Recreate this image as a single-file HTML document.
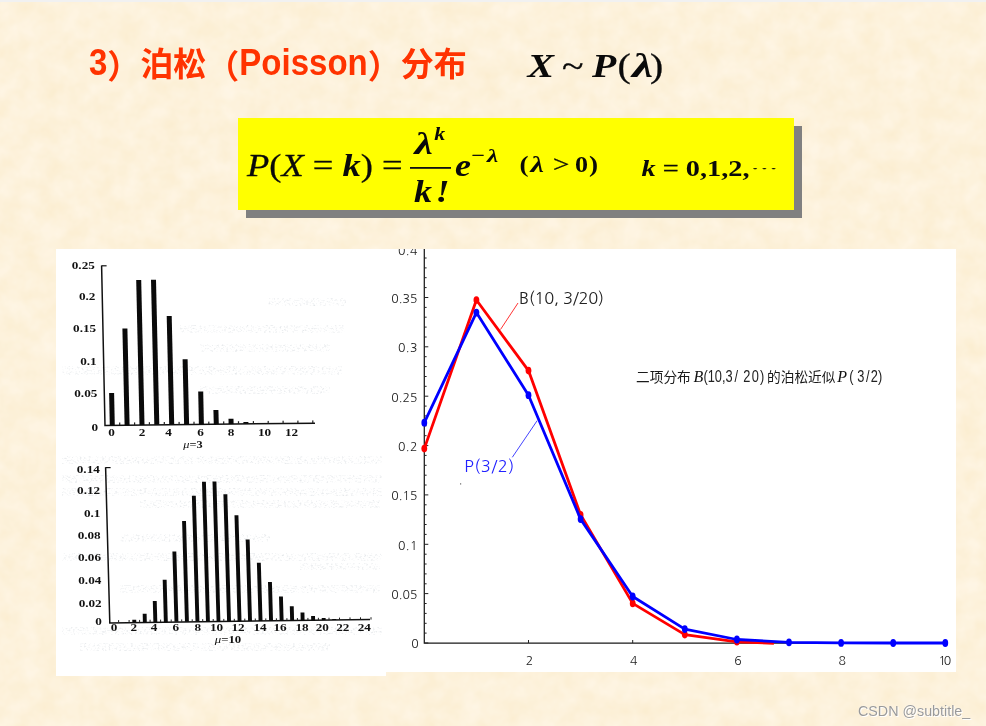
<!DOCTYPE html>
<html lang="zh"><head><meta charset="utf-8"><title>泊松（Poisson）分布</title>
<style>
html,body{margin:0;padding:0}
body{width:986px;height:726px;overflow:hidden;position:relative;background:#fdf1db;font-family:"Liberation Sans","Noto Sans CJK SC",sans-serif}
#tex{position:absolute;left:0;top:0;width:986px;height:726px}
#topbar{position:absolute;left:0;top:0;width:986px;height:2px;background:#f1f1f1}
#title{position:absolute;left:89px;top:43px;font-size:33px;font-weight:bold;color:#ff3300;white-space:nowrap;line-height:44px;letter-spacing:0}
.lt{display:inline-block;transform:scaleY(1.1);transform-origin:0 76%;position:relative;top:-1px}
.pr{position:relative;top:2px}
.m{font-family:"Liberation Serif","DejaVu Serif",serif;font-style:italic;font-weight:bold;fill:#0a0a0a;white-space:pre}
.m .r{font-style:normal}
#ybox{position:absolute;left:238px;top:118px;width:556px;height:91.5px;background:#ffff00;box-shadow:8px 8px 0 #808080}
#panelL{position:absolute;left:56px;top:249px;width:330px;height:427px;background:#fff}
#panelR{position:absolute;left:385px;top:249px;width:571px;height:423px;background:#fff}
#charts{position:absolute;left:0;top:0;width:986px;height:726px}
.sl{font-family:"Liberation Serif","DejaVu Serif",serif;font-weight:bold;font-size:10px;fill:#111}
.tk{font-family:"NanumGothic","Liberation Sans",sans-serif;font-size:12.3px;fill:#222}
.lb{font-family:"NanumGothic","Liberation Sans",sans-serif;font-size:16.5px}
.cap{font-family:"Noto Sans CJK SC","WenQuanYi Zen Hei",sans-serif;font-weight:400;font-size:13.7px;fill:#1a1a1a}
.it{font-family:"Liberation Serif","DejaVu Serif",serif;font-style:italic;font-size:16px;fill:#111}
.nr{font-family:"Liberation Sans","DejaVu Sans",sans-serif;font-size:16px;fill:#222}
#wm{position:absolute;left:858px;top:701.5px;font-size:14.3px;line-height:18px;color:#9a9a9a;text-shadow:0 0 1px #fff,1px 1px 0 #fff;white-space:nowrap}
</style></head><body>
<svg id="tex" width="986" height="726">
<defs>
<filter id="paper" x="0" y="0" width="100%" height="100%" color-interpolation-filters="sRGB">
<feTurbulence type="fractalNoise" baseFrequency="0.05" numOctaves="3" seed="11" result="n"/>
<feColorMatrix type="matrix" values="0.0157 0 0 0 0.9835  0.0392 0 0 0 0.9275  0.0980 0 0 0 0.8098  0 0 0 0 1"/>
</filter>
</defs>
<rect width="986" height="726" fill="#fdf1db"/>
<rect width="986" height="726" filter="url(#paper)"/>
</svg>
<div id="topbar"></div>
<div id="title"><span class="lt">3</span><span class="pr">）</span>泊松<span class="pr">（</span><span class="lt">Poisson</span><span class="pr">）</span>分布</div>
<div id="ybox"></div>
<div id="panelL"></div>
<div id="panelR"></div>
<svg id="charts" width="986" height="726" viewBox="0 0 986 726">
<defs><clipPath id="cr"><rect x="385" y="249" width="571" height="423"/></clipPath>
<filter id="ghost" x="0" y="0" width="100%" height="100%" color-interpolation-filters="sRGB">
<feTurbulence type="fractalNoise" baseFrequency="0.45 0.6" numOctaves="2" seed="3"/>
<feColorMatrix type="matrix" values="0 0 0 0 0.55  0 0 0 0 0.6  0 0 0 0 0.65  2.2 0 0 0 -1.12" result="n"/>
<feComposite in="n" in2="SourceGraphic" operator="in"/>
</filter></defs>
<g id="gh" filter="url(#ghost)" opacity="0.28">
<rect x="268" y="298" width="78" height="8" fill="#fff"/>
<rect x="180" y="325" width="165" height="8" fill="#fff"/>
<rect x="200" y="344" width="130" height="8" fill="#fff"/>
<rect x="62" y="366" width="280" height="9" fill="#fff"/>
<rect x="200" y="386" width="130" height="8" fill="#fff"/>
<rect x="62" y="456" width="320" height="8" fill="#fff"/>
<rect x="62" y="475" width="320" height="8" fill="#fff"/>
<rect x="62" y="488" width="320" height="8" fill="#fff"/>
<rect x="140" y="500" width="240" height="8" fill="#fff"/>
<rect x="120" y="534" width="150" height="8" fill="#fff"/>
<rect x="62" y="553" width="320" height="8" fill="#fff"/>
<rect x="300" y="563" width="80" height="7" fill="#fff"/>
<rect x="120" y="585" width="260" height="8" fill="#fff"/>
<rect x="62" y="627" width="320" height="8" fill="#fff"/>
<rect x="80" y="643" width="250" height="8" fill="#fff"/>
</g>
<g id="mth">
<text transform="translate(527.5,77) scale(1.17,1)" font-size="34" class="m" >X</text>
<text transform="translate(562,77) scale(1.17,1)" font-size="34" class="m" ><tspan class="r" font-weight="normal" stroke="#0a0a0a" stroke-width="0.3">~</tspan></text>
<text transform="translate(592,77) scale(1.17,1)" font-size="34" class="m" >P</text>
<text transform="translate(617.5,77) scale(1.17,1)" font-size="34" class="m" ><tspan class="r" font-weight="normal" stroke="#0a0a0a" stroke-width="0.3">(</tspan></text>
<text transform="translate(632,77) scale(1.4,1)" font-size="34" class="m" >λ</text>
<text transform="translate(650,77) scale(1.17,1)" font-size="34" class="m" ><tspan class="r" font-weight="normal" stroke="#0a0a0a" stroke-width="0.3">)</tspan></text>
<text transform="translate(247,175.6) scale(1.177,1)" font-size="31" class="m" ><tspan font-weight="normal" stroke="#0a0a0a" stroke-width="0.3">P<tspan class="r" >(</tspan>X <tspan class="r" >=</tspan></tspan> k<tspan class="r" font-weight="normal" stroke="#0a0a0a" stroke-width="0.3">)</tspan> <tspan class="r" font-weight="normal" stroke="#0a0a0a" stroke-width="0.3">=</tspan></text>
<text transform="translate(414.5,153.5) scale(1.33,1)" font-size="31" class="m" >λ</text>
<text transform="translate(434.3,140) scale(1.16,1)" font-size="19" class="m" >k</text>
<rect x="410" y="167" width="41" height="1.8" fill="#111"/>
<text transform="translate(414,201.8) scale(1.16,1)" font-size="31" class="m" >k</text>
<text transform="translate(435.5,201.8) scale(1.16,1)" font-size="31" class="m" >!</text>
<text transform="translate(455,175.7) scale(1.16,1)" font-size="31" class="m" >e</text>
<text transform="translate(471.5,162) scale(1.16,1)" font-size="20" class="m" ><tspan class="r" font-weight="normal" stroke="#0a0a0a" stroke-width="0.3">−</tspan></text>
<text transform="translate(487,161.6) scale(1.3,1)" font-size="19.5" class="m" >λ</text>
<text transform="translate(519.5,171.5) scale(1.16,1)" font-size="23.5" class="m" ><tspan class="r" >(</tspan></text>
<text transform="translate(530.5,171.5) scale(1.35,1)" font-size="22.5" class="m" >λ</text>
<text transform="translate(553,171.5) scale(1.3,1)" font-size="22.5" class="m" ><tspan class="r" font-weight="normal" stroke="#0a0a0a" stroke-width="0.3">&gt;</tspan></text>
<text transform="translate(575,171.5) scale(1.16,1)" font-size="22.5" class="m" ><tspan class="r" >0</tspan></text>
<text transform="translate(589,171.5) scale(1.16,1)" font-size="23.5" class="m" ><tspan class="r" >)</tspan></text>
<text transform="translate(641.5,175.8) scale(1.18,1)" font-size="24" class="m" >k <tspan class="r" font-weight="normal" stroke="#0a0a0a" stroke-width="0.3">=</tspan> <tspan class="r" >0,1,2,</tspan></text>
<text transform="translate(749.2,172.3) scale(3.2,1)" font-size="11" class="m" ><tspan class="r" font-weight="normal" letter-spacing="-0.77">···</tspan></text>
</g>
<g id="c1">
<path d="M101.6 265.5 L105 425.5 L315 423.2" fill="none" stroke="#111" stroke-width="1.5"/>
<path d="M101.6 265.8 h5" stroke="#111" stroke-width="1.2"/>
<polygon points="109.8,425.2 114.8,425.2 114.1,393.0 109.1,393.0" fill="#0a0a0a"/>
<polygon points="124.6,425.1 129.6,425.1 127.4,328.4 122.4,328.4" fill="#0a0a0a"/>
<polygon points="139.5,424.9 144.5,424.9 141.2,280.0 136.2,280.0" fill="#0a0a0a"/>
<polygon points="154.3,424.7 159.3,424.7 156.0,279.8 151.0,279.8" fill="#0a0a0a"/>
<polygon points="169.2,424.6 174.2,424.6 171.7,315.9 166.7,315.9" fill="#0a0a0a"/>
<polygon points="184.1,424.4 189.1,424.4 187.6,359.2 182.6,359.2" fill="#0a0a0a"/>
<polygon points="198.9,424.2 203.9,424.2 203.2,391.6 198.2,391.6" fill="#0a0a0a"/>
<polygon points="213.8,424.1 218.8,424.1 218.4,410.1 213.4,410.1" fill="#0a0a0a"/>
<polygon points="228.6,423.9 233.6,423.9 233.5,418.7 228.5,418.7" fill="#0a0a0a"/>
<polygon points="243.4,423.7 248.4,423.7 248.4,422.0 243.4,422.0" fill="#0a0a0a"/>
<rect x="119.1" y="422.5" width="1.2" height="2.6" fill="#222"/>
<rect x="134.0" y="422.4" width="1.2" height="2.6" fill="#222"/>
<rect x="148.8" y="422.2" width="1.2" height="2.6" fill="#222"/>
<rect x="163.7" y="422.0" width="1.2" height="2.6" fill="#222"/>
<rect x="178.5" y="421.9" width="1.2" height="2.6" fill="#222"/>
<rect x="193.4" y="421.7" width="1.2" height="2.6" fill="#222"/>
<rect x="208.2" y="421.6" width="1.2" height="2.6" fill="#222"/>
<rect x="223.1" y="421.4" width="1.2" height="2.6" fill="#222"/>
<rect x="237.9" y="421.2" width="1.2" height="2.6" fill="#222"/>
<rect x="252.8" y="421.1" width="1.2" height="2.6" fill="#222"/>
<rect x="267.6" y="420.9" width="1.2" height="2.6" fill="#222"/>
<rect x="282.5" y="420.7" width="1.2" height="2.6" fill="#222"/>
<rect x="297.3" y="420.6" width="1.2" height="2.6" fill="#222"/>
<rect x="312.2" y="420.4" width="1.2" height="2.6" fill="#222"/>
<text transform="translate(94.8,269.4) scale(1.32,1)" text-anchor="end" class="sl">0.25</text>
<text transform="translate(95.4,300.4) scale(1.32,1)" text-anchor="end" class="sl">0.2</text>
<text transform="translate(96.1,332.4) scale(1.32,1)" text-anchor="end" class="sl">0.15</text>
<text transform="translate(96.7,364.9) scale(1.32,1)" text-anchor="end" class="sl">0.1</text>
<text transform="translate(97.3,396.9) scale(1.32,1)" text-anchor="end" class="sl">0.05</text>
<text transform="translate(98.0,431.4) scale(1.32,1)" text-anchor="end" class="sl">0</text>
<text transform="translate(111.5,435.5) scale(1.32,1)" text-anchor="middle" class="sl">0</text>
<text transform="translate(142,435.5) scale(1.32,1)" text-anchor="middle" class="sl">2</text>
<text transform="translate(168.5,435.5) scale(1.32,1)" text-anchor="middle" class="sl">4</text>
<text transform="translate(200.5,435.5) scale(1.32,1)" text-anchor="middle" class="sl">6</text>
<text transform="translate(231,435.5) scale(1.32,1)" text-anchor="middle" class="sl">8</text>
<text transform="translate(264.5,435.5) scale(1.32,1)" text-anchor="middle" class="sl">10</text>
<text transform="translate(291.5,435.5) scale(1.32,1)" text-anchor="middle" class="sl">12</text>
<text transform="translate(193,447.5) scale(1.3,1)" text-anchor="middle" class="sl" style="font-size:9.5px"><tspan font-style="italic" font-weight="normal">μ</tspan>=3</text>
</g>
<g id="c2">
<path d="M105.6 467.3 L109.8 623 L370 619.6" fill="none" stroke="#111" stroke-width="1.5"/>
<path d="M105.6 467.6 h5" stroke="#111" stroke-width="1.2"/>
<polygon points="132.4,622.3 136.3,622.3 136.2,619.8 132.3,619.8" fill="#0a0a0a"/>
<polygon points="142.9,622.2 146.8,622.2 146.6,613.7 142.7,613.7" fill="#0a0a0a"/>
<polygon points="153.4,622.1 157.3,622.1 156.7,601.0 152.8,601.0" fill="#0a0a0a"/>
<polygon points="163.9,622.0 167.8,622.0 166.6,579.7 162.7,579.7" fill="#0a0a0a"/>
<polygon points="174.5,621.8 178.4,621.8 176.3,551.4 172.4,551.4" fill="#0a0a0a"/>
<polygon points="185.0,621.7 188.9,621.7 186.0,521.1 182.1,521.1" fill="#0a0a0a"/>
<polygon points="195.5,621.6 199.4,621.6 195.8,495.8 191.9,495.8" fill="#0a0a0a"/>
<polygon points="206.0,621.5 209.9,621.5 205.9,481.7 202.0,481.7" fill="#0a0a0a"/>
<polygon points="216.6,621.4 220.4,621.4 216.4,481.6 212.5,481.6" fill="#0a0a0a"/>
<polygon points="227.1,621.2 231.0,621.2 227.3,494.2 223.4,494.2" fill="#0a0a0a"/>
<polygon points="237.6,621.1 241.5,621.1 238.4,515.3 234.5,515.3" fill="#0a0a0a"/>
<polygon points="248.1,621.0 252.0,621.0 249.6,539.6 245.7,539.6" fill="#0a0a0a"/>
<polygon points="258.6,620.9 262.5,620.9 260.8,562.7 256.9,562.7" fill="#0a0a0a"/>
<polygon points="269.1,620.7 273.0,620.7 271.9,582.0 268.0,582.0" fill="#0a0a0a"/>
<polygon points="279.7,620.6 283.6,620.6 282.9,596.4 279.0,596.4" fill="#0a0a0a"/>
<polygon points="290.2,620.5 294.1,620.5 293.7,606.2 289.8,606.2" fill="#0a0a0a"/>
<polygon points="300.7,620.4 304.6,620.4 304.4,612.5 300.5,612.5" fill="#0a0a0a"/>
<polygon points="311.2,620.3 315.1,620.3 315.0,616.1 311.1,616.1" fill="#0a0a0a"/>
<polygon points="321.8,620.1 325.6,620.1 325.6,618.1 321.7,618.1" fill="#0a0a0a"/>
<polygon points="332.3,620.0 336.2,620.0 336.1,619.0 332.2,619.0" fill="#0a0a0a"/>
<rect x="118.1" y="620.1" width="1" height="2.4" fill="#222"/>
<rect x="128.6" y="620.0" width="1" height="2.4" fill="#222"/>
<rect x="139.1" y="619.9" width="1" height="2.4" fill="#222"/>
<rect x="149.6" y="619.7" width="1" height="2.4" fill="#222"/>
<rect x="160.1" y="619.6" width="1" height="2.4" fill="#222"/>
<rect x="170.7" y="619.5" width="1" height="2.4" fill="#222"/>
<rect x="181.2" y="619.4" width="1" height="2.4" fill="#222"/>
<rect x="191.7" y="619.3" width="1" height="2.4" fill="#222"/>
<rect x="202.2" y="619.1" width="1" height="2.4" fill="#222"/>
<rect x="212.7" y="619.0" width="1" height="2.4" fill="#222"/>
<rect x="223.3" y="618.9" width="1" height="2.4" fill="#222"/>
<rect x="233.8" y="618.8" width="1" height="2.4" fill="#222"/>
<rect x="244.3" y="618.6" width="1" height="2.4" fill="#222"/>
<rect x="254.8" y="618.5" width="1" height="2.4" fill="#222"/>
<rect x="265.3" y="618.4" width="1" height="2.4" fill="#222"/>
<rect x="275.9" y="618.3" width="1" height="2.4" fill="#222"/>
<rect x="286.4" y="618.2" width="1" height="2.4" fill="#222"/>
<rect x="296.9" y="618.0" width="1" height="2.4" fill="#222"/>
<rect x="307.4" y="617.9" width="1" height="2.4" fill="#222"/>
<rect x="317.9" y="617.8" width="1" height="2.4" fill="#222"/>
<rect x="328.5" y="617.7" width="1" height="2.4" fill="#222"/>
<rect x="339.0" y="617.6" width="1" height="2.4" fill="#222"/>
<rect x="349.5" y="617.4" width="1" height="2.4" fill="#222"/>
<rect x="360.0" y="617.3" width="1" height="2.4" fill="#222"/>
<rect x="370.5" y="617.2" width="1" height="2.4" fill="#222"/>
<text transform="translate(99.8,473.0) scale(1.32,1)" text-anchor="end" class="sl">0.14</text>
<text transform="translate(100.1,493.5) scale(1.32,1)" text-anchor="end" class="sl">0.12</text>
<text transform="translate(100.4,516.5) scale(1.32,1)" text-anchor="end" class="sl">0.1</text>
<text transform="translate(100.7,538.5) scale(1.32,1)" text-anchor="end" class="sl">0.08</text>
<text transform="translate(101.0,561.0) scale(1.32,1)" text-anchor="end" class="sl">0.06</text>
<text transform="translate(101.3,583.5) scale(1.32,1)" text-anchor="end" class="sl">0.04</text>
<text transform="translate(101.7,606.5) scale(1.32,1)" text-anchor="end" class="sl">0.02</text>
<text transform="translate(101.9,624.5) scale(1.32,1)" text-anchor="end" class="sl">0</text>
<text transform="translate(114,631) scale(1.32,1)" text-anchor="middle" class="sl">0</text>
<text transform="translate(133.8,631) scale(1.32,1)" text-anchor="middle" class="sl">2</text>
<text transform="translate(154,631) scale(1.32,1)" text-anchor="middle" class="sl">4</text>
<text transform="translate(175.8,631) scale(1.32,1)" text-anchor="middle" class="sl">6</text>
<text transform="translate(197.7,631) scale(1.32,1)" text-anchor="middle" class="sl">8</text>
<text transform="translate(216.5,631) scale(1.32,1)" text-anchor="middle" class="sl">10</text>
<text transform="translate(238,631) scale(1.32,1)" text-anchor="middle" class="sl">12</text>
<text transform="translate(260,631) scale(1.32,1)" text-anchor="middle" class="sl">14</text>
<text transform="translate(280,631) scale(1.32,1)" text-anchor="middle" class="sl">16</text>
<text transform="translate(302,631) scale(1.32,1)" text-anchor="middle" class="sl">18</text>
<text transform="translate(322.3,631) scale(1.32,1)" text-anchor="middle" class="sl">20</text>
<text transform="translate(342.8,631) scale(1.32,1)" text-anchor="middle" class="sl">22</text>
<text transform="translate(364.3,631) scale(1.32,1)" text-anchor="middle" class="sl">24</text>
<text transform="translate(228,643.3) scale(1.35,1)" text-anchor="middle" class="sl" style="font-size:9.5px"><tspan font-style="italic" font-weight="normal">μ</tspan>=10</text>
</g>
<g id="c3" clip-path="url(#cr)">
<path d="M424.3 249 V643.0 H948" fill="none" stroke="#1a1a1a" stroke-width="1.25"/>
<path d="M424.3 643.0 h4" stroke="#222" stroke-width="1"/>
<path d="M424.3 633.1 h2.3" stroke="#222" stroke-width="1"/>
<path d="M424.3 623.3 h2.3" stroke="#222" stroke-width="1"/>
<path d="M424.3 613.4 h2.3" stroke="#222" stroke-width="1"/>
<path d="M424.3 603.5 h2.3" stroke="#222" stroke-width="1"/>
<path d="M424.3 593.6 h4" stroke="#222" stroke-width="1"/>
<path d="M424.3 583.8 h2.3" stroke="#222" stroke-width="1"/>
<path d="M424.3 573.9 h2.3" stroke="#222" stroke-width="1"/>
<path d="M424.3 564.0 h2.3" stroke="#222" stroke-width="1"/>
<path d="M424.3 554.2 h2.3" stroke="#222" stroke-width="1"/>
<path d="M424.3 544.3 h4" stroke="#222" stroke-width="1"/>
<path d="M424.3 534.4 h2.3" stroke="#222" stroke-width="1"/>
<path d="M424.3 524.5 h2.3" stroke="#222" stroke-width="1"/>
<path d="M424.3 514.7 h2.3" stroke="#222" stroke-width="1"/>
<path d="M424.3 504.8 h2.3" stroke="#222" stroke-width="1"/>
<path d="M424.3 494.9 h4" stroke="#222" stroke-width="1"/>
<path d="M424.3 485.0 h2.3" stroke="#222" stroke-width="1"/>
<path d="M424.3 475.2 h2.3" stroke="#222" stroke-width="1"/>
<path d="M424.3 465.3 h2.3" stroke="#222" stroke-width="1"/>
<path d="M424.3 455.4 h2.3" stroke="#222" stroke-width="1"/>
<path d="M424.3 445.6 h4" stroke="#222" stroke-width="1"/>
<path d="M424.3 435.7 h2.3" stroke="#222" stroke-width="1"/>
<path d="M424.3 425.8 h2.3" stroke="#222" stroke-width="1"/>
<path d="M424.3 415.9 h2.3" stroke="#222" stroke-width="1"/>
<path d="M424.3 406.1 h2.3" stroke="#222" stroke-width="1"/>
<path d="M424.3 396.2 h4" stroke="#222" stroke-width="1"/>
<path d="M424.3 386.3 h2.3" stroke="#222" stroke-width="1"/>
<path d="M424.3 376.5 h2.3" stroke="#222" stroke-width="1"/>
<path d="M424.3 366.6 h2.3" stroke="#222" stroke-width="1"/>
<path d="M424.3 356.7 h2.3" stroke="#222" stroke-width="1"/>
<path d="M424.3 346.8 h4" stroke="#222" stroke-width="1"/>
<path d="M424.3 337.0 h2.3" stroke="#222" stroke-width="1"/>
<path d="M424.3 327.1 h2.3" stroke="#222" stroke-width="1"/>
<path d="M424.3 317.2 h2.3" stroke="#222" stroke-width="1"/>
<path d="M424.3 307.4 h2.3" stroke="#222" stroke-width="1"/>
<path d="M424.3 297.5 h4" stroke="#222" stroke-width="1"/>
<path d="M424.3 287.6 h2.3" stroke="#222" stroke-width="1"/>
<path d="M424.3 277.7 h2.3" stroke="#222" stroke-width="1"/>
<path d="M424.3 267.9 h2.3" stroke="#222" stroke-width="1"/>
<path d="M424.3 258.0 h2.3" stroke="#222" stroke-width="1"/>
<path d="M528.5 643.0 v-3" stroke="#222" stroke-width="1"/>
<path d="M632.7 643.0 v-3" stroke="#222" stroke-width="1"/>
<path d="M736.9 643.0 v-3" stroke="#222" stroke-width="1"/>
<path d="M841.1 643.0 v-3" stroke="#222" stroke-width="1"/>
<path d="M945.3 643.0 v-3" stroke="#222" stroke-width="1"/>
<text x="411.2" y="648.3"  class="tk">0</text>
<text x="391.2" y="598.9" textLength="26.3" lengthAdjust="spacing" class="tk">0.05</text>
<text x="397.9" y="549.6" textLength="19.6" lengthAdjust="spacing" class="tk">0.1</text>
<text x="391.2" y="500.2" textLength="26.3" lengthAdjust="spacing" class="tk">0.15</text>
<text x="397.9" y="450.9" textLength="19.6" lengthAdjust="spacing" class="tk">0.2</text>
<text x="391.2" y="401.5" textLength="26.3" lengthAdjust="spacing" class="tk">0.25</text>
<text x="397.9" y="352.1" textLength="19.6" lengthAdjust="spacing" class="tk">0.3</text>
<text x="391.2" y="302.8" textLength="26.3" lengthAdjust="spacing" class="tk">0.35</text>
<text x="397.9" y="254.5" textLength="19.6" lengthAdjust="spacing" class="tk">0.4</text>
<text x="525.8" y="665"  class="tk">2</text>
<text x="630.0" y="665"  class="tk">4</text>
<text x="734.2" y="665"  class="tk">6</text>
<text x="838.4" y="665"  class="tk">8</text>
<text x="938.4" y="665" textLength="12.7" lengthAdjust="spacing" class="tk">10</text>
<polyline points="424.3,448.6 476.4,300.0 528.5,370.6 580.6,514.8 632.7,603.4 684.8,634.6 736.9,641.8 773.9,643.4" fill="none" stroke="#f00" stroke-width="2.8" stroke-linejoin="round"/>
<ellipse cx="424.3" cy="448.6" rx="2.9" ry="3.8" fill="#f00"/>
<ellipse cx="476.4" cy="300.0" rx="2.9" ry="3.8" fill="#f00"/>
<ellipse cx="528.5" cy="370.6" rx="2.9" ry="3.8" fill="#f00"/>
<ellipse cx="580.6" cy="514.8" rx="2.9" ry="3.8" fill="#f00"/>
<ellipse cx="632.7" cy="603.4" rx="2.9" ry="3.8" fill="#f00"/>
<ellipse cx="684.8" cy="634.6" rx="2.9" ry="3.8" fill="#f00"/>
<ellipse cx="736.9" cy="641.8" rx="2.9" ry="3.8" fill="#f00"/>
<polyline points="424.3,422.7 476.4,312.6 528.5,395.2 580.6,519.1 632.7,596.5 684.8,629.1 736.9,639.5 789.0,642.3 841.1,642.9 893.2,643.0 945.3,643.0" fill="none" stroke="#00f" stroke-width="2.8" stroke-linejoin="round"/>
<ellipse cx="424.3" cy="422.7" rx="2.9" ry="3.9" fill="#00f"/>
<ellipse cx="476.4" cy="312.6" rx="2.9" ry="3.9" fill="#00f"/>
<ellipse cx="528.5" cy="395.2" rx="2.9" ry="3.9" fill="#00f"/>
<ellipse cx="580.6" cy="519.1" rx="2.9" ry="3.9" fill="#00f"/>
<ellipse cx="632.7" cy="596.5" rx="2.9" ry="3.9" fill="#00f"/>
<ellipse cx="684.8" cy="629.1" rx="2.9" ry="3.9" fill="#00f"/>
<ellipse cx="736.9" cy="639.5" rx="2.9" ry="3.9" fill="#00f"/>
<ellipse cx="789.0" cy="642.3" rx="2.9" ry="3.9" fill="#00f"/>
<ellipse cx="841.1" cy="642.9" rx="2.9" ry="3.9" fill="#00f"/>
<ellipse cx="893.2" cy="643.0" rx="2.9" ry="3.9" fill="#00f"/>
<ellipse cx="945.3" cy="643.0" rx="2.9" ry="3.9" fill="#00f"/>
<path d="M518 303 L500.5 329.5" stroke="#f33" stroke-width="1"/>
<path d="M512.3 457.3 L537.2 420.6" stroke="#44f" stroke-width="1"/>
<text x="519" y="304" textLength="85" lengthAdjust="spacing" class="lb" fill="#222">B(10, 3/20)</text>
<text x="464.3" y="472.3" textLength="50" lengthAdjust="spacing" class="lb" fill="#22f">P(3/2)</text>
<text x="636" y="382" class="cap">二项分布</text>
<text x="693.5" y="382" class="it">B</text>
<text transform="translate(703.5,382) scale(0.8,1)" class="nr">(10,3</text>
<text transform="translate(734.5,382) scale(0.8,1)" class="nr">/</text>
<text transform="translate(743.3,382) scale(0.8,1)" class="nr">2</text>
<text transform="translate(751.8,382) scale(0.8,1)" class="nr">0</text>
<text transform="translate(760,382) scale(0.8,1)" class="nr">)</text>
<text x="767" y="382" class="cap">的泊松近似</text>
<text x="837.3" y="382" class="it">P</text>
<text transform="translate(849.3,382) scale(0.8,1)" class="nr">(</text>
<text transform="translate(857.3,382) scale(0.8,1)" class="nr">3</text>
<text transform="translate(866,382) scale(0.8,1)" class="nr">/</text>
<text transform="translate(870.8,382) scale(0.8,1)" class="nr">2)</text>
<rect x="460" y="483.3" width="1.2" height="1.2" fill="#666"/>
</g>
</svg>
<div id="wm">CSDN @subtitle_</div>
</body></html>
